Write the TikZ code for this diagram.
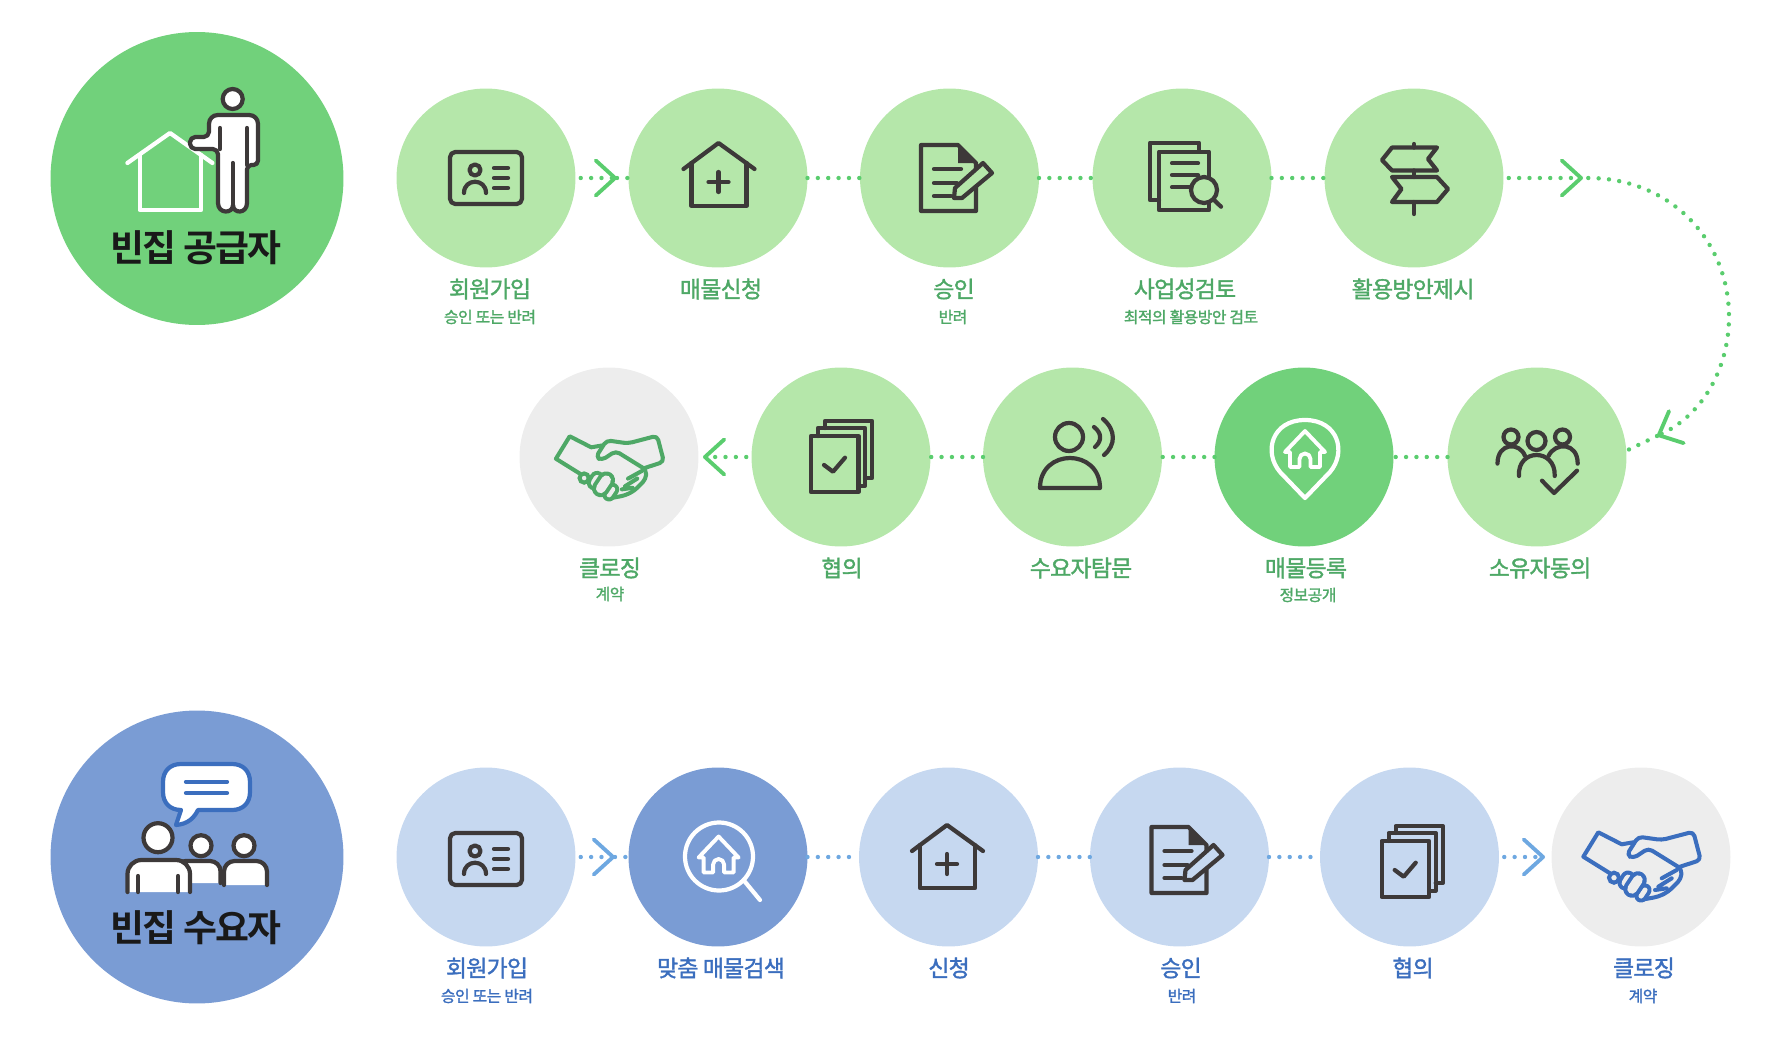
\documentclass[tikz,border=0pt]{standalone}
\usepackage{fontspec}
\usetikzlibrary{arrows.meta}
\setmainfont{Noto Sans CJK KR}
\newfontfamily\krmedium{Noto Sans CJK KR}[FakeBold=1.6,LetterSpace=-3]
\newfontfamily\krtitle{Noto Sans CJK KR Bold}[LetterSpace=-5]
\definecolor{biggreen}{RGB}{113,209,123}
\definecolor{lightgreen}{RGB}{181,231,170}
\definecolor{textgreen}{RGB}{78,168,102}
\definecolor{dotgreen}{RGB}{90,205,110}
\definecolor{bigblue}{RGB}{122,156,212}
\definecolor{lightblue}{RGB}{198,216,240}
\definecolor{textblue}{RGB}{59,110,190}
\definecolor{dotblue}{RGB}{110,168,225}
\definecolor{closegray}{RGB}{237,237,237}
\definecolor{icondark}{RGB}{61,57,57}
\tikzset{
  bigcircle/.style={circle, minimum size=5.86cm, inner sep=0pt, outer sep=0pt},
  stepcircle/.style={circle, minimum size=3.58cm, inner sep=0pt, outer sep=0pt},
  bigtext/.style={font=\fontsize{21}{25}\selectfont\krtitle, text=black!90, inner sep=0pt},
  steptext/.style={font=\fontsize{13}{15}\selectfont\krmedium, inner sep=0pt},
  subtext/.style={font=\fontsize{9}{11}\selectfont\krmedium, inner sep=0pt},
  greendots/.style={draw=dotgreen, line width=2.5pt, line cap=round, dash pattern=on 0pt off 5.9pt},
  bluedots/.style={draw=dotblue, line width=2.5pt, line cap=round, dash pattern=on 0pt off 5.9pt},
  greenchev/.style={greendots, shorten <=3pt, -{Straight Barb[length=11pt,width=20pt,line width=2.2pt,round]}},
  bluechev/.style={bluedots, shorten <=3pt, -{Straight Barb[length=11pt,width=20pt,line width=2.2pt,round]}},
  iconline/.style={draw=icondark, line width=2.4pt, line join=round, line cap=round},
  whiteline/.style={draw=white, line width=2.4pt, line join=round, line cap=round},
  pics/idcard/.style={code={
    \draw[iconline,rounded corners=3pt] (-36,-26) rectangle (36,26);
    \draw[iconline] (-11,-8) circle (5.5);
    \draw[iconline] (-22,15) .. controls (-22,0) and (0,0) .. (0,15);
    \draw[iconline] (8,-10) -- (22,-10) (8,0) -- (22,0) (8,10) -- (22,10);
  }},
  pics/houseplus/.style={code={
    \draw[iconline] (-35,-9) -- (0,-35) -- (36,-9);
    \draw[iconline] (-27,-15) -- (-27,28) -- (28,28) -- (28,-15);
    \draw[iconline] (-10,4) -- (10,4) (0,-6) -- (0,14);
  }},
  pics/docpen/.style={code={
    \draw[iconline] (-28,-33) -- (9,-33) -- (27,-15) -- (27,33) -- (-28,33) -- cycle;
    \fill[icondark] (9,-33) -- (27,-15) -- (9,-15) -- cycle;
    \draw[iconline] (-15,-9) -- (12,-9) (-15,5) -- (8,5) (-15,18) -- (2,18);
    \draw[iconline,fill=#1] (5,20) -- (6,10) -- (34,-15) -- (43,-5) -- (13,20) -- cycle;
  }},
  pics/pages/.style={code={
    \draw[iconline] (-16,-29) -- (-16,-36) -- (31,-36) -- (31,21) -- (24,21);
    \draw[iconline] (-23,-21) -- (-23,-29) -- (24,-29) -- (24,28.7) -- (17.5,28.7);
    \draw[iconline] (-30,-21) rectangle (17.5,35);
    \draw[iconline] (-17,8) -- (-8,14.7) -- (4,0.7);
  }},
  pics/homemark/.style={code={
    \draw[whiteline,line width=2.2pt] (-15,16) -- (-15,1) -- (-20,1) -- (0,-20) -- (20,1) -- (15,1) -- (15,16)
      -- (5.5,16) -- (5.5,8) arc (0:-180:5.5) -- (-5.5,16) -- cycle;
  }},
  pics/shake/.style={code={
    \draw[draw=#1,line width=2.3pt,line join=round,line cap=round] (-31,16.3) -- (-57.7,-0.3) -- (-42.7,-24.7) -- (-19.3,-12.7) -- (-7.7,-14.7);
    \draw[draw=#1,line width=2.3pt,line join=round,line cap=round,rounded corners=2.5pt] (39,9.7) -- (59.7,3) -- (52.3,-25.3) -- (20.7,-17) -- (-2.7,-20.3)
      -- (-14.3,-2) -- (-7.7,1.3) -- (7.3,-8.7) -- (40.7,12) -- (40,22) -- (27.3,34.7) -- (17.3,39.7) -- (-1,43);
    \draw[draw=#1,line width=2.3pt,line cap=round] (20.7,21.3) -- (35.7,13) (17.3,29.7) -- (30.7,21.3) (14,33) -- (25.7,31.3);
    \draw[draw=#1,line width=2.3pt] (-27,20.7) circle (5);
    \draw[draw=#1,line cap=round,line width=8.5pt] (-16,26) -- (-13,21);
    \draw[draw=closegray,line cap=round,line width=3.9pt] (-16,26) -- (-13,21);
    \draw[draw=#1,line cap=round,line width=7.5pt] (0,39) -- (4,33);
    \draw[draw=closegray,line cap=round,line width=2.9pt] (0,39) -- (4,33);
    \draw[draw=#1,line cap=round,line width=10pt] (-9,32) -- (-3,23);
    \draw[draw=closegray,line cap=round,line width=5.4pt] (-9,32) -- (-3,23);
  }},
}
\begin{document}
\begin{tikzpicture}[x=0.02cm,y=-0.02cm]
\useasboundingbox (0,0) rectangle (1772,1058);
% supplier side
\node[bigcircle, fill=biggreen] (sup) at (197,178.5) {};
\node[stepcircle, fill=lightgreen] (a1) at (486,178) {};
\node[stepcircle, fill=lightgreen] (a2) at (718,178) {};
\node[stepcircle, fill=lightgreen] (a3) at (949.5,178) {};
\node[stepcircle, fill=lightgreen] (a4) at (1182,178) {};
\node[stepcircle, fill=lightgreen] (a5) at (1414,178) {};
\node[stepcircle, fill=lightgreen] (a6) at (1537,457) {};
\node[stepcircle, fill=biggreen] (a7) at (1304,457) {};
\node[stepcircle, fill=lightgreen] (a8) at (1072.5,457) {};
\node[stepcircle, fill=lightgreen] (a9) at (841,457) {};
\node[stepcircle, fill=closegray] (a10) at (609,457) {};
% demand side
\node[bigcircle, fill=bigblue] (dem) at (197,857) {};
\node[stepcircle, fill=lightblue] (b1) at (486,857) {};
\node[stepcircle, fill=bigblue] (b2) at (718,857) {};
\node[stepcircle, fill=lightblue] (b3) at (948.5,857) {};
\node[stepcircle, fill=lightblue] (b4) at (1179.5,857) {};
\node[stepcircle, fill=lightblue] (b5) at (1409.5,857) {};
\node[stepcircle, fill=closegray] (b6) at (1641,857) {};
% labels
\node[bigtext] (supt) at (196,248) {빈집 공급자};
\node[bigtext] (demt) at (196,928) {빈집 수요자};
\node[steptext, text=textgreen] (a1t) at (490,289) {회원가입};
\node[subtext, text=textgreen] (a1s) at (490,317) {승인 또는 반려};
\node[steptext, text=textgreen] (a2t) at (721,289) {매물신청};
\node[steptext, text=textgreen] (a3t) at (954,289) {승인};
\node[subtext, text=textgreen] (a3s) at (953,317) {반려};
\node[steptext, text=textgreen] (a4t) at (1185,289) {사업성검토};
\node[subtext, text=textgreen] (a4s) at (1191,317) {최적의 활용방안 검토};
\node[steptext, text=textgreen] (a5t) at (1413,289) {활용방안제시};
\node[steptext, text=textgreen] (a6t) at (1540,568) {소유자동의};
\node[steptext, text=textgreen] (a7t) at (1306,568) {매물등록};
\node[subtext, text=textgreen] (a7s) at (1308,595) {정보공개};
\node[steptext, text=textgreen] (a8t) at (1081,568) {수요자탐문};
\node[steptext, text=textgreen] (a9t) at (842,568) {협의};
\node[steptext, text=textgreen] (a10t) at (610,568) {클로징};
\node[subtext, text=textgreen] (a10s) at (610,594) {계약};
\node[steptext, text=textblue] (b1t) at (487,968) {회원가입};
\node[subtext, text=textblue] (b1s) at (487,996) {승인 또는 반려};
\node[steptext, text=textblue] (b2t) at (721,968) {맞춤 매물검색};
\node[steptext, text=textblue] (b3t) at (949,968) {신청};
\node[steptext, text=textblue] (b4t) at (1181,968) {승인};
\node[subtext, text=textblue] (b4s) at (1182,996) {반려};
\node[steptext, text=textblue] (b5t) at (1413,968) {협의};
\node[steptext, text=textblue] (b6t) at (1644,968) {클로징};
\node[subtext, text=textblue] (b6s) at (1643,996) {계약};
% connectors
\coordinate (ca) at (617,178);
\coordinate (cb) at (1583,178);
\coordinate (cc) at (1657,436);
\coordinate (cd) at (1729,317);
\coordinate (ce) at (703,457);
\coordinate (cf) at (615,857);
\coordinate (cg) at (1545,857);
\draw[greenchev] (a1) -- (ca);
\draw[greendots] (ca) -- (a2);
\draw[greendots] (a2) -- (a3);
\draw[greendots] (a3) -- (a4);
\draw[greendots] (a4) -- (a5);
\draw[greenchev] (a5) -- (cb);
\draw[greenchev] (cb) .. controls (1670,178) and (1729,240) .. (cd) .. controls (1729,365) and (1705,414) .. (cc);
\draw[greendots] (cc) -- (a6.4);
\draw[greendots] (a6) -- (a7);
\draw[greendots] (a7) -- (a8);
\draw[greendots] (a8) -- (a9);
\draw[greenchev] (a9) -- (ce);
\draw[bluechev] (b1) -- (cf);
\draw[bluedots] (cf) -- (b2);
\draw[bluedots] (b2) -- (b3);
\draw[bluedots] (b3) -- (b4);
\draw[bluedots] (b4) -- (b5);
\draw[bluechev] (b5) -- (cg);
% big icons
\draw[whiteline] (127.4,163) -- (170,133) -- (212.4,163);
\draw[whiteline] (139.7,155) -- (139.7,210) -- (201,210) -- (201,155);
\draw[iconline,fill=white] (232.7,99) circle (10);
\draw[iconline,fill=white,rounded corners=5pt] (209,137) -- (209,115) -- (258,115) [rounded corners=2.5pt] -- (258,165) -- (247,165) [sharp corners] -- (247,203) .. controls (247,214) and (233,214) .. (233,205) .. controls (233,214) and (218,214) .. (218,203) [rounded corners=3pt] -- (218,149) -- (190,149) -- (190,137) -- cycle;
\draw[iconline] (247,128) -- (247,165) (220,128) -- (220,149) (232.7,163) -- (232.7,205);
\draw[draw=textblue,line width=2.4pt,line join=round,fill=white] (198,810) -- (232,810) .. controls (243,810) and (250,803) .. (250,792) -- (250,782) .. controls (250,771) and (243,764) .. (232,764) -- (181,764) .. controls (170,764) and (163,771) .. (163,782) -- (163,792) .. controls (163,803) and (170,810) .. (181,810) -- (176,825) .. controls (188,824) and (194,818) .. (198,810) -- cycle;
\draw[draw=textblue,line width=2.4pt,line cap=round] (186,781.7) -- (227,781.7) (186,793) -- (227,793);
\draw[iconline,fill=white] (244,845.7) circle (10.5);
\draw[iconline,fill=white] (201,845.7) circle (10.5);
\draw[iconline,fill=white,rounded corners=6pt] (224,885) -- (224,861) -- (267,861) -- (267,885);
\draw[iconline,fill=white,rounded corners=6pt] (175,883) -- (175,861) -- (220.6,861) -- (220.6,883);
\draw[iconline,fill=white] (158,837.7) circle (14.5);
\draw[iconline,fill=white,rounded corners=8pt] (127.5,892) -- (127.5,860) -- (190,860) -- (190,892);
\draw[iconline] (138,876) -- (138,892) (178,876) -- (178,892);
% step icons
\pic at (486,178) {idcard};
\pic at (718.5,178) {houseplus};
\pic at (949,178) {docpen=lightgreen};
% documents with lens
\draw[iconline] (1199,151.7) -- (1199,142.7) -- (1150,142.7) -- (1150,200) -- (1159,200);
\draw[iconline] (1159,151.7) -- (1209,151.7) -- (1209,210) -- (1159,210) -- cycle;
\draw[iconline] (1172,163.3) -- (1198,163.3) (1172,175) -- (1198,175) (1172,187.3) -- (1190,187.3);
\draw[iconline,fill=lightgreen] (1204,190) circle (13);
\draw[iconline] (1214,200) -- (1221,206.7);
% sign post
\draw[iconline] (1382,160) -- (1392,147.5) -- (1437,147.5) -- (1428,159) -- (1437,170.5) -- (1392,170.5) -- cycle;
\draw[iconline] (1392,177) -- (1437,177) -- (1448,189) -- (1437,202) -- (1392,202) -- (1401.5,189) -- cycle;
\draw[iconline] (1414,144) -- (1414,147.5) (1414,170.5) -- (1414,177) (1414,202) -- (1414,214);
% owners with check
\draw[iconline] (1511,437) circle (7.5) (1536.5,441) circle (9) (1562.5,437) circle (7.5);
\draw[iconline] (1497.5,463.6) .. controls (1497.5,442) and (1520,442) .. (1525,456);
\draw[iconline] (1577.7,463.6) .. controls (1577.7,442) and (1555,442) .. (1548.5,456);
\draw[iconline] (1519,476) .. controls (1517,448) and (1556,448) .. (1554.7,476);
\draw[iconline] (1542,480.7) -- (1554,493) -- (1577,470.7);
% pin with home
\draw[whiteline] (1305,498) -- (1280,472) .. controls (1263,452) and (1272,420) .. (1305,420) .. controls (1338,420) and (1347,452) .. (1330,472) -- cycle;
\pic at (1305,451) {homemark};
% visitor
\draw[iconline] (1069,437) circle (14);
\draw[iconline] (1040,488) .. controls (1040,448) and (1100,448) .. (1100,488) -- cycle;
\draw[iconline] (1094,427) .. controls (1102,433) and (1102,441) .. (1095,447);
\draw[iconline] (1103,419) .. controls (1116,430) and (1116,445) .. (1104,455);
\pic at (841,457) {pages};
\pic[scale=0.92] at (609,459) {shake=textgreen};
% search with home
\draw[whiteline] (719,856.5) circle (34);
\draw[whiteline] (743.5,880) -- (760,900);
\pic at (718.6,856.5) {homemark};
\pic at (486,859) {idcard};
\pic at (947,860) {houseplus};
\pic at (1179.5,860) {docpen=lightblue};
\pic at (1411.7,862) {pages};
\pic at (1641,857) {shake=textblue};
\end{tikzpicture}
\end{document}
